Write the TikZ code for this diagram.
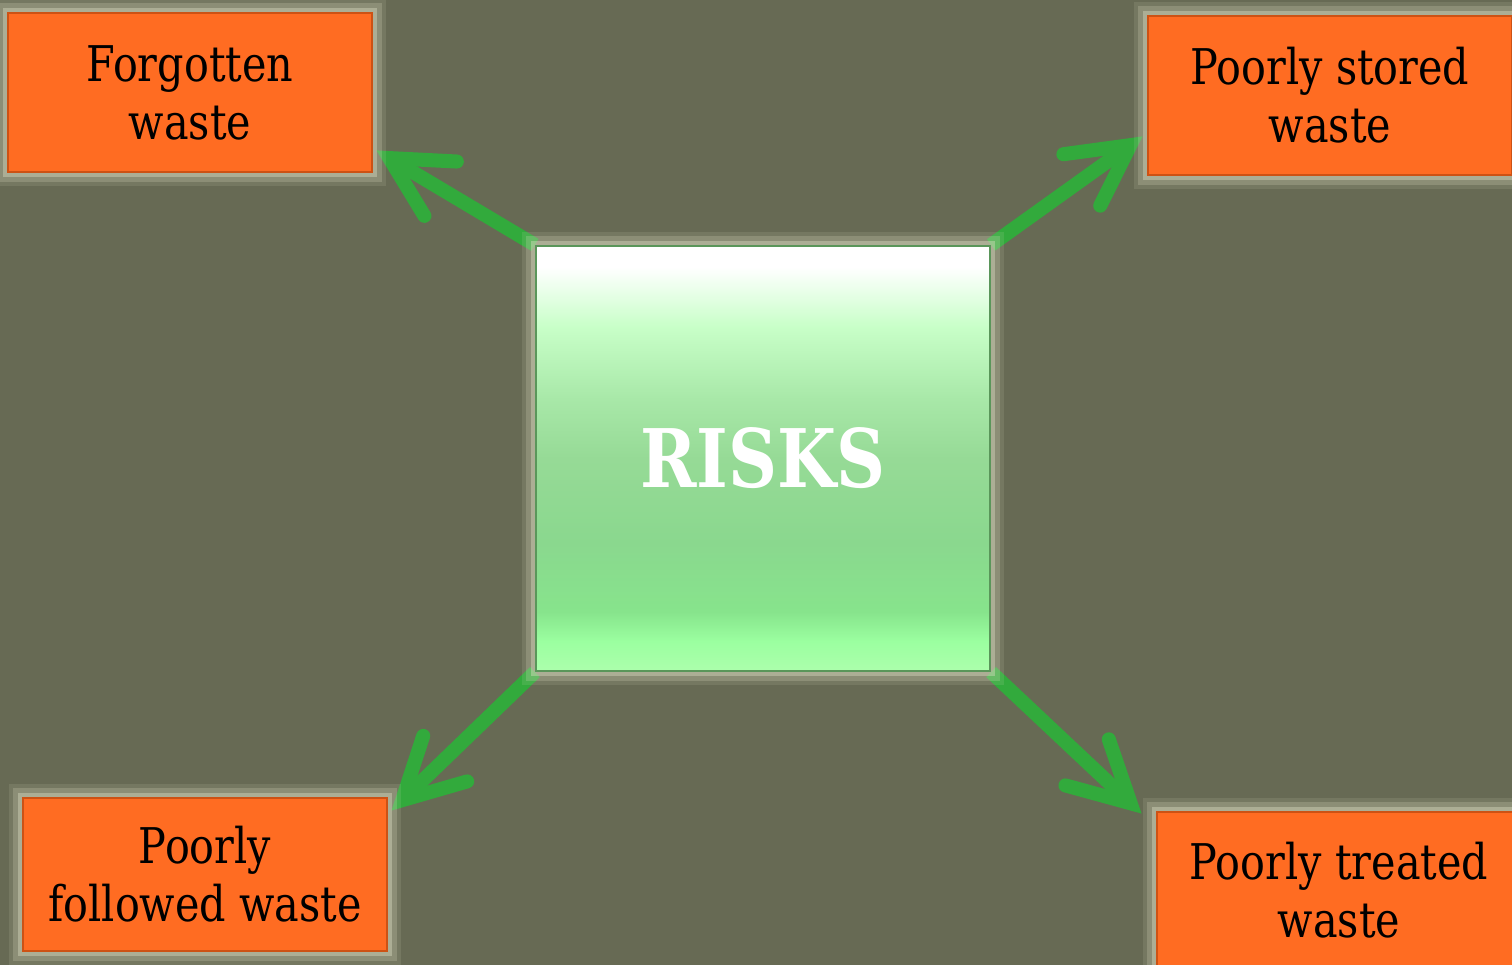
\documentclass[tikz,border=0pt]{standalone}
\usepackage{fontspec}
\setmainfont{DejaVu Serif}[FakeStretch=0.84]
\usetikzlibrary{arrows.meta,backgrounds,calc}

\definecolor{bgc}{RGB}{103,106,84}
\definecolor{boxorange}{RGB}{255,108,34}
\definecolor{boxedge}{RGB}{205,82,20}
\definecolor{glowc}{RGB}{222,222,196}
\definecolor{arrowgreen}{RGB}{50,170,60}
\definecolor{riskedge}{RGB}{90,150,90}
\definecolor{gA}{RGB}{255,255,255}
\definecolor{gB}{RGB}{200,255,200}
\definecolor{gC}{RGB}{168,232,168}
\definecolor{gD}{RGB}{150,218,150}
\definecolor{gE}{RGB}{138,216,142}
\definecolor{gF}{RGB}{135,228,140}
\definecolor{gG}{RGB}{155,255,160}
\definecolor{gH}{RGB}{172,255,172}

\pgfdeclareverticalshading{riskshade}{100bp}{color(0bp)=(gH); color(25bp)=(gH);
color(28.5bp)=(gG); color(32bp)=(gF); color(40bp)=(gE); color(50bp)=(gD);
color(57bp)=(gC); color(65.5bp)=(gB); color(72.5bp)=(gA); color(100bp)=(gA)}

\tikzset{
glow/.style={preaction={draw=glowc, line width=8pt, opacity=0.12},
  preaction={draw=glowc, line width=5.5pt, opacity=0.22},
  preaction={draw=glowc, line width=3pt, opacity=0.4}},
wastebox/.style={glow, fill=boxorange, draw=boxedge, line width=0.8pt,
  minimum width=3.64cm, minimum height=1.59cm, align=center,
  font=\fontsize{14}{16.5}\selectfont},
riskbox/.style={glow, shading=riskshade, draw=riskedge, line width=0.6pt,
  minimum width=4.54cm, minimum height=4.25cm, text=white,
  font=\fontsize{23}{27}\selectfont\bfseries},
riskarrow/.style={draw=arrowgreen, line width=4pt,
  -{Straight Barb[length=17pt,width=18pt,line cap=round]}}
}

\begin{document}
\begin{tikzpicture}
\useasboundingbox (0,0) rectangle (15.12,-9.65);
\begin{pgfonlayer}{background}
\fill[bgc] (0,0) rectangle (15.12,-9.65);
\end{pgfonlayer}

\node[wastebox] (forgot) at (1.90,-0.925) {Forgotten\\waste};
\node[wastebox] (stored) at (13.30,-0.955) {Poorly stored\\waste};
\node[wastebox, minimum height=1.53cm] (followed) at (2.05,-8.745) {Poorly\\followed waste};
\node[wastebox, minimum height=1.56cm] (treated) at (13.39,-8.90) {Poorly treated\\waste};
\node[riskbox] (risks) at (7.63,-4.585) {RISKS};

\coordinate (tipa) at ($(forgot.south east)+(0.03,0.23)$);
\coordinate (tipb) at ($(stored.south west)+(-0.04,0.40)$);
\coordinate (tipc) at ($(followed.north east)+(0.03,-0.14)$);
\coordinate (tipd) at ($(treated.north west)+(-0.14,-0.03)$);

\begin{pgfonlayer}{background}
\draw[riskarrow] (risks.north west) -- (tipa);
\draw[riskarrow] (risks.north east) -- (tipb);
\draw[riskarrow] (risks.south west) -- (tipc);
\draw[riskarrow] (risks.south east) -- (tipd);
\end{pgfonlayer}
\end{tikzpicture}
\end{document}
